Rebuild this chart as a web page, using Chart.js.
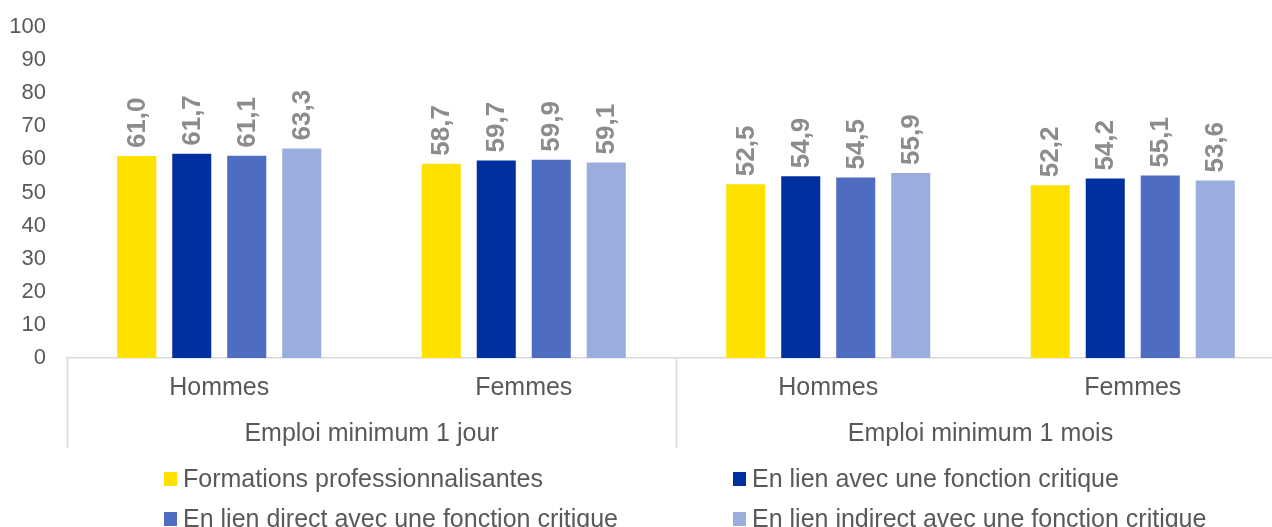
<!DOCTYPE html>
<html>
<head>
<meta charset="utf-8">
<script src="https://cdn.jsdelivr.net/npm/chart.js@4.4.1/dist/chart.umd.min.js"></script>
<style>
  html, body { margin: 0; padding: 0; background: #fff; overflow: hidden; }
  #wrap { width: 1290px; height: 527px; position: relative; }
</style>
</head>
<body>
<div id="wrap"><canvas id="chart"></canvas></div>
<script>
const categories = ["Hommes", "Femmes", "Hommes", "Femmes"];
const groups = ["Emploi minimum 1 jour", "Emploi minimum 1 mois"];

const seriesNames = [
    "Formations professionnalisantes",
    "En lien avec une fonction critique",
    "En lien direct avec une fonction critique",
    "En lien indirect avec une fonction critique"
];

const formations = [61.0, 58.7, 52.5, 52.2];
const lienCritique = [61.7, 59.7, 54.9, 54.2];
const lienDirect = [61.1, 59.9, 54.5, 55.1];
const lienIndirect = [63.3, 59.1, 55.9, 53.6];

const yTicks = [0, 10, 20, 30, 40, 50, 60, 70, 80, 90, 100];

const colors = ["#FFE100", "#0030A0", "#4E6DC0", "#9AADDC"];
const textColor = "#595959";
const fontFamily = "'Liberation Sans', Arial, sans-serif";

const seriesValues = [formations, lienCritique, lienDirect, lienIndirect];

// rotated value labels above bars
const valueLabels = {
    id: "valueLabels",
    afterDatasetsDraw(chart) {
        const c = chart.ctx;
        c.save();
        c.font = "bold 26px " + fontFamily;
        c.fillStyle = "#8C8C8C";
        c.textAlign = "left";
        c.textBaseline = "middle";
        chart.data.datasets.forEach((ds, di) => {
            const meta = chart.getDatasetMeta(di);
            meta.data.forEach((bar, i) => {
                const txt = ds.data[i].toFixed(1).replace(".", ",");
                c.save();
                c.translate(bar.x + 1, bar.y - 8);
                c.rotate(-Math.PI / 2);
                c.fillText(txt, 0, 0);
                c.restore();
            });
        });
        c.restore();
    }
};

// two-level category axis with separators
const multiAxis = {
    id: "multiAxis",
    afterDraw(chart) {
        const c = chart.ctx;
        const x = chart.scales.x;
        const bottom = chart.chartArea.bottom;
        const step = x.getPixelForValue(1) - x.getPixelForValue(0);
        c.save();
        c.strokeStyle = "#D9D9D9";
        c.lineWidth = 1.5;
        for (let g = 0; g <= groups.length; g++) {
            const px = Math.round(x.getPixelForValue(g * 2) - step / 2) + 0.5;
            c.beginPath();
            c.moveTo(px, bottom);
            c.lineTo(px, bottom + 90);
            c.stroke();
        }
        c.fillStyle = textColor;
        c.font = "25px " + fontFamily;
        c.textAlign = "center";
        c.textBaseline = "middle";
        categories.forEach((lab, i) => {
            c.fillText(lab, x.getPixelForValue(i), bottom + 30);
        });
        groups.forEach((lab, g) => {
            const cx = (x.getPixelForValue(g * 2) + x.getPixelForValue(g * 2 + 1)) / 2;
            c.fillText(lab, cx, bottom + 76);
        });
        c.restore();
    }
};

// legend in two columns
const gridLegend = {
    id: "gridLegend",
    afterDraw(chart) {
        const c = chart.ctx;
        const colX = [164, 733];
        const rowY = [479, 519];
        c.save();
        c.font = "25px " + fontFamily;
        c.textBaseline = "middle";
        c.textAlign = "left";
        chart.data.datasets.forEach((ds, i) => {
            const lx = colX[i % 2];
            const ly = rowY[Math.floor(i / 2)];
            c.fillStyle = ds.backgroundColor;
            c.fillRect(lx, ly - 7, 13, 14);
            c.fillStyle = textColor;
            c.fillText(ds.label, lx + 19, ly + 1);
        });
        c.restore();
    }
};

const ctx = document.getElementById("chart");

new Chart(ctx, {
    type: "bar",
    data: {
        labels: categories,
        datasets: seriesValues.map((vals, i) => ({
            label: seriesNames[i],
            data: vals,
            backgroundColor: colors[i],
            borderWidth: 0,
            categoryPercentage: 0.7225,
            barPercentage: 0.71
        }))
    },
    options: {
        responsive: true,
        maintainAspectRatio: false,
        animation: false,
        layout: { padding: { top: 27, right: 5, bottom: 0, left: 0 } },
        plugins: {
            legend: { display: false },
            tooltip: { enabled: false }
        },
        scales: {
            x: {
                grid: { display: false, drawTicks: false },
                border: { color: "#D9D9D9", width: 1.5 },
                ticks: { display: false },
                afterFit(s) { s.height = 169; }
            },
            y: {
                min: 0,
                max: 100,
                afterBuildTicks(s) { s.ticks = yTicks.map(v => ({ value: v })); },
                grid: { display: false, drawTicks: false },
                border: { display: false },
                ticks: {
                    color: textColor,
                    padding: 21,
                    font: { family: fontFamily, size: 22 }
                },
                afterFit(s) {
                    s.width = 67;
                    s.paddingTop = 0;
                    s.paddingBottom = 0;
                }
            }
        }
    },
    plugins: [valueLabels, multiAxis, gridLegend]
});
</script>
</body>
</html>
